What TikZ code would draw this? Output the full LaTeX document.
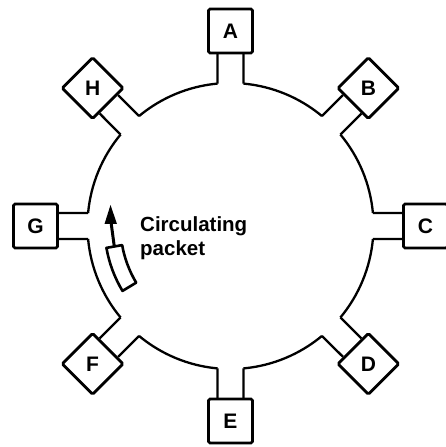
\documentclass[tikz,border=0pt]{standalone}
\usepackage{fontspec}
\setmainfont{Liberation Sans}
\usetikzlibrary{shapes.geometric,arrows.meta,calc}
\begin{document}
\begin{tikzpicture}[x=1pt,y=1pt,
  ring/.style={line width=2.3pt},
  sqbox/.style={draw,line width=2.8pt,minimum size=44pt,inner sep=0pt,rounded corners=1.5pt,font=\bfseries\fontsize{21}{24}\selectfont},
  dmbox/.style={draw,diamond,aspect=1,line width=2.8pt,minimum width=62pt,minimum height=62pt,inner sep=0pt,rounded corners=1.5pt,font=\bfseries\fontsize{21}{24}\selectfont},
  pkt/.style={line width=2.6pt,line join=round},
  lbl/.style={anchor=north west,align=left,inner sep=0pt,font=\bfseries\fontsize{20.5}{24}\selectfont}
]
\useasboundingbox (0,0) rectangle (445,447);
\coordinate (O) at (230.5,221);
\foreach \a/\n in {90/A,0/C,-90/E,180/G}{
  \node[sqbox] (\n) at ($(O)+(\a:195)$) {\n};
}
\foreach \a/\n in {45/B,-45/D,-135/F,135/H}{
  \node[dmbox] (\n) at ($(O)+(\a:195)$) {\n};
}
\foreach \a/\n in {90/A,45/B,0/C,-45/D,-90/E,-135/F,180/G,135/H}{
  \coordinate (\n l) at ($(O)+(\a+5.22:143)$);
  \coordinate (\n r) at ($(O)+(\a-5.22:143)$);
  \coordinate (\n L) at ($(O)+(\a+4.32:172.5)$);
  \coordinate (\n R) at ($(O)+(\a-4.32:172.5)$);
  \draw[ring] (\n l) -- (\n L);
  \draw[ring] (\n r) -- (\n R);
  \draw[ring] (\n l) arc[start angle=\a+5.22, end angle=\a+39.78, radius=143];
}
\coordinate (p1) at ($(O)+(190:126)$);
\coordinate (p2) at ($(O)+(211:110)$);
\draw[pkt] (p1) arc[start angle=190,end angle=211,radius=126] -- (p2) arc[start angle=211,end angle=190,radius=110] -- cycle;
\coordinate (pt) at ($(O)+(190:118)$);
\coordinate (tip) at (110.5,242);
\coordinate (hb) at (111,225);
\draw[line width=3pt] (pt) -- (hb);
\fill (tip) -- (104.5,223) -- (117,223) -- cycle;
\node[lbl] (label) at (140,231) {Circulating\\packet};
\end{tikzpicture}
\end{document}
